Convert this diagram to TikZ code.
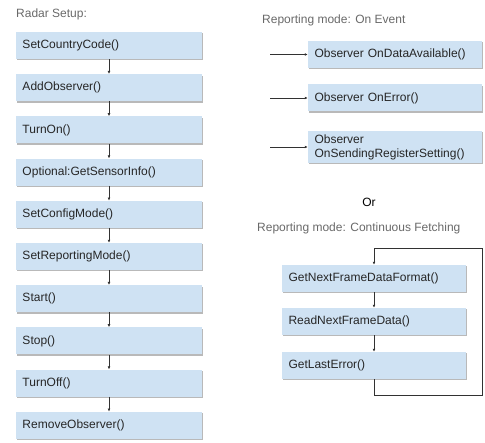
\documentclass[tikz,border=0pt]{standalone}
\usepackage{fontspec}
\setmainfont{Liberation Sans}
\usetikzlibrary{shadows,arrows.meta}

\definecolor{callblue}{RGB}{207,226,243}
\definecolor{headgray}{RGB}{105,105,105}
\definecolor{linegray}{RGB}{50,50,50}

\tikzset{
  call/.style={rectangle, fill=callblue, text=black!85, font=\fontsize{12}{14}\selectfont,
    align=left, inner xsep=6.5pt, inner ysep=2pt, minimum height=27pt,
    drop shadow={shadow xshift=0.6pt, shadow yshift=-1.4pt, opacity=0.5, fill=black!55}},
  head/.style={font=\fontsize{12}{14}\selectfont, text=headgray, anchor=west, inner sep=0pt},
  link/.style={draw=linegray, line width=0.7pt, -{Latex[length=3pt,width=2.8pt]}},
}

\begin{document}
\begin{tikzpicture}[x=1pt,y=-1pt]
\useasboundingbox (0,0) rectangle (485,443);

% radar setup
\node[head] (setup) at (16,14) {Radar Setup:};
\foreach \i/\name [evaluate = \i as \yp using (45.5 + (\i-1) * 42.2)] in {1/SetCountryCode(),
  2/AddObserver(), 3/TurnOn(), 4/Optional:GetSensorInfo(), 5/SetConfigMode(),
  6/SetReportingMode(), 7/Start(), 8/Stop(), 9/TurnOff(), 10/RemoveObserver()}{
  \node[call, text width=173pt] (s\i) at (109,\yp) {\name};
}
\foreach \i [evaluate = \i as \j using int(\i+1)] in {1,...,9}{
  \draw[link] (s\i) -- (s\j);
}

% on event
\node[head] (event) at (262,20) {Reporting mode: On Event};
\node[call, text width=161pt] (e1) at (395,54.5) {Observer OnDataAvailable()};
\node[call, text width=161pt] (e2) at (395,98) {Observer OnError()};
\node[call, text width=161pt, minimum height=32pt] (e3) at (395,147) {Observer\\OnSendingRegisterSetting()};
\foreach \i in {1,2,3}{
  \coordinate (in\i) at (270,0 |- e\i.west);
  \draw[link] (in\i) -- (e\i.west);
}

\node[font=\fontsize{12}{14}\selectfont, inner sep=0pt] (or) at (369,202) {Or};

% continuous fetching
\node[head] (fetch) at (257,228) {Reporting mode: Continuous Fetching};
\node[call, text width=171pt] (f1) at (374,278.5) {GetNextFrameDataFormat()};
\node[call, text width=171pt] (f2) at (374,321.5) {ReadNextFrameData()};
\node[call, text width=171pt] (f3) at (374,365.5) {GetLastError()};
\draw[link] (f1) -- (f2);
\draw[link] (f2) -- (f3);
\coordinate (back) at (482,248);
\draw[link] (f3.south) -- ++(0,16) -| (back) -| (f1.north);
\end{tikzpicture}
\end{document}
